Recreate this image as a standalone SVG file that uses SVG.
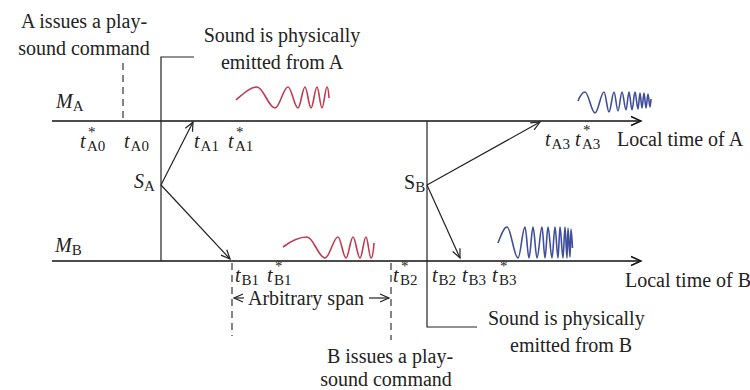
<svg xmlns="http://www.w3.org/2000/svg" width="750" height="390" viewBox="0 0 750 390">
<defs>
<style>
text{font-family:'Liberation Serif','Times New Roman',serif;font-size:20px;fill:#222}
.it{font-style:italic}
.sub{font-size:15px;font-style:normal}
.ln{stroke:#222;stroke-width:1.2;fill:none}
.ax{stroke:#111;stroke-width:1.4;fill:none}
.dash{stroke:#222;stroke-width:1.1;fill:none;stroke-dasharray:7 5}
.red{stroke:#c23a4c;stroke-width:1.6;fill:none}
.blue{stroke:#3f4f9c;stroke-width:1.6;fill:none}
</style>
<marker id="ah" markerUnits="userSpaceOnUse" markerWidth="14" markerHeight="12" viewBox="-12 -6 14 12" refX="0" refY="0" orient="auto">
<path d="M-9,-4 L0,0 L-9,4" fill="none" stroke="#222" stroke-width="1.2"/>
</marker>
<marker id="ahx" markerUnits="userSpaceOnUse" markerWidth="14" markerHeight="12" viewBox="-12 -6 14 12" refX="0" refY="0" orient="auto">
<path d="M-10,-4.5 L0,0 L-10,4.5" fill="none" stroke="#111" stroke-width="1.4"/>
</marker>
</defs>
<rect width="750" height="390" fill="#fff"/>

<g id="connectors">
<line class="ax" x1="52" y1="121" x2="641" y2="121" marker-end="url(#ahx)"/>
<line class="ax" x1="52" y1="261" x2="641" y2="261" marker-end="url(#ahx)"/>
<path class="ln" d="M194,57 H161 V261"/>
<path class="ln" d="M427,121 V327 H477"/>
<line class="dash" x1="123" y1="63" x2="123" y2="121"/>
<line class="dash" x1="232" y1="263" x2="232" y2="336"/>
<line class="dash" x1="391" y1="263" x2="391" y2="340"/>
<line class="ln" x1="161" y1="185" x2="193" y2="122" marker-end="url(#ah)"/>
<line class="ln" x1="161" y1="185" x2="230" y2="259" marker-end="url(#ah)"/>
<line class="ln" x1="427" y1="185" x2="540" y2="122" marker-end="url(#ah)"/>
<line class="ln" x1="427" y1="185" x2="460" y2="258" marker-end="url(#ah)"/>
<line class="ln" x1="244" y1="298" x2="234" y2="298" marker-end="url(#ah)"/>
<line class="ln" x1="369" y1="298" x2="389" y2="298" marker-end="url(#ah)"/>
</g>

<g id="waves">
<path class="red" d="M236,100 C243,94 250,87 257,87 C263.5,87 268.5,108 275,108 C279.7,108 283.3,87 288,87 C291.6,87 294.4,108 298,108 C300.5,108 302.5,87 305,87 C307.2,87 308.8,108 311,108 C313.2,108 314.8,87 317,87 C318.8,87 320.2,108 322,108 C323.8,108 325.2,87 327,87 C328,87 328.6,92 329,98"/>
<path class="red" d="M283,247 C291,241 299,237 307,237 C313.5,237 318.5,258 325,258 C329.7,258 333.3,237 338,237 C340.9,237 343.1,258 346,258 C348.5,258 350.5,237 353,237 C355.5,237 357.5,258 360,258 C362.2,258 363.8,237 366,237 C367.8,237 369.2,258 371,258 C372.5,258 373.5,250 374,243"/>
<path class="blue" d="M578,101 C580,96 582,92 585,92 C588.6,92 591.4,113 595,113 C598.2,113 600.8,92 604,92 C605.8,92 607.2,112 609,112 C610.8,112 612.2,92 614,92 C615.4,92 616.6,111 618,111 C619.4,111 620.6,92 622,92 C623.4,92 624.6,110 626,110 C627.1,110 627.9,92 629,92 C630.1,92 630.9,110 632,110 C633.1,110 633.9,92 635,92 C636.1,92 636.9,109 638,109 C638.7,109 639.3,93 640,93 C640.7,93 641.3,108 642,108 C642.7,108 643.3,93 644,93 C644.7,93 645.3,108 646,108 C646.7,108 647.3,94 648,94 C648.7,94 649.3,107 650,107 C650.4,107 650.7,102 651,99"/>
<path class="blue" d="M498,243 C501,235 504,227 507,227 C511,227 514,258 518,258 C520.5,258 522.5,227 525,227 C526.4,227 527.6,258 529,258 C530.4,258 531.6,227 533,227 C534.4,227 535.6,258 537,258 C538.8,258 540.2,227 542,227 C543.1,227 543.9,258 545,258 C546.1,258 546.9,227 548,227 C549.4,227 550.6,258 552,258 C553.1,258 553.9,227 555,227 C556.1,227 556.9,258 558,258 C558.7,258 559.3,227 560,227 C561.1,227 561.9,258 563,258 C563.7,258 564.3,227 565,227 C565.7,227 566.3,258 567,258 C567.4,258 567.6,228 568,228 C568.7,228 569.3,257 570,257 C570.4,257 570.6,229 571,229 C571.5,229 572,240 572.5,248"/>
</g>

<g id="cmdA">
<text x="84" y="28" text-anchor="middle">A issues a play-</text>
<text x="84" y="55" text-anchor="middle">sound command</text>
</g>
<g id="emitA">
<text x="282" y="42" text-anchor="middle">Sound is physically</text>
<text x="282" y="69" text-anchor="middle">emitted from A</text>
</g>
<g id="MA"><text x="56" y="108"><tspan class="it">M</tspan><tspan class="sub" dy="3">A</tspan></text></g>
<g id="MB"><text x="55" y="252"><tspan class="it">M</tspan><tspan class="sub" dy="3">B</tspan></text></g>
<g id="SA"><text x="134" y="188"><tspan class="it">S</tspan><tspan class="sub" dy="3">A</tspan></text></g>
<g id="SB"><text x="404" y="189">S<tspan class="sub" dy="3">B</tspan></text></g>

<g id="labelsA">
<text x="80" y="148"><tspan class="it">t</tspan><tspan class="sub" x="88" dy="-11">*</tspan><tspan class="sub" x="87" dy="14">A0</tspan></text>
<text x="124" y="148"><tspan class="it">t</tspan><tspan class="sub" dx="1" dy="3">A0</tspan></text>
<text x="194" y="148"><tspan class="it">t</tspan><tspan class="sub" dx="1" dy="3">A1</tspan></text>
<text x="228" y="148"><tspan class="it">t</tspan><tspan class="sub" x="236" dy="-11">*</tspan><tspan class="sub" x="235" dy="14">A1</tspan></text>
<text x="545" y="146"><tspan class="it">t</tspan><tspan class="sub" dx="1" dy="3">A3</tspan></text>
<text x="575" y="146"><tspan class="it">t</tspan><tspan class="sub" x="583" dy="-11">*</tspan><tspan class="sub" x="582" dy="14">A3</tspan></text>
<text x="617" y="146">Local time of A</text>
</g>

<g id="labelsB">
<text x="235" y="282"><tspan class="it">t</tspan><tspan class="sub" dx="1" dy="3">B1</tspan></text>
<text x="267" y="282"><tspan class="it">t</tspan><tspan class="sub" x="275" dy="-11">*</tspan><tspan class="sub" x="274" dy="14">B1</tspan></text>
<text x="393" y="282"><tspan class="it">t</tspan><tspan class="sub" x="401" dy="-11">*</tspan><tspan class="sub" x="400" dy="14">B2</tspan></text>
<text x="432" y="282"><tspan class="it">t</tspan><tspan class="sub" dx="1" dy="3">B2</tspan></text>
<text x="462" y="282"><tspan class="it">t</tspan><tspan class="sub" dx="1" dy="3">B3</tspan></text>
<text x="492" y="282"><tspan class="it">t</tspan><tspan class="sub" x="500" dy="-11">*</tspan><tspan class="sub" x="499" dy="14">B3</tspan></text>
<text x="625" y="287">Local time of B</text>
</g>

<g id="span"><text x="306" y="305" text-anchor="middle">Arbitrary span</text></g>

<g id="emitB">
<text x="488" y="325">Sound is physically</text>
<text x="510" y="352">emitted from B</text>
</g>
<g id="cmdB">
<text x="390" y="363" text-anchor="middle">B issues a play-</text>
<text x="386" y="386" text-anchor="middle">sound command</text>
</g>
</svg>
